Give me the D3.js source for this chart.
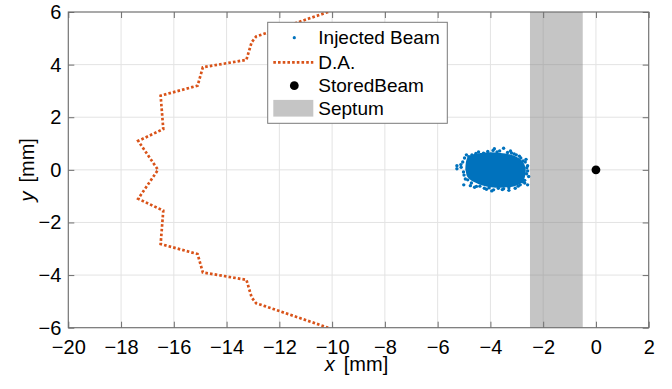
<!DOCTYPE html>
<html>
<head>
<meta charset="utf-8">
<script src="https://cdn.jsdelivr.net/npm/d3@7"></script>
<style>
  body { margin: 0; background: #fff; }
  svg { display: block; }
  text { font-family: "Liberation Sans", Arial, Helvetica, sans-serif; fill: #000; }
</style>
</head>
<body>
<script>
// Dynamic aperture boundary (mm)
const daX = [-10.15, -12.55, -12.88, -13.05, -13.25, -14.9, -15.1, -16.5, -16.4, -17.35, -16.6,
             -17.35, -16.4, -16.5, -15.1, -14.9, -13.25, -13.05, -12.88, -12.55, -10.15];
const daY = [6, 5.18, 5.07, 4.85, 4.18, 3.9, 3.2, 2.82, 1.55, 1.1, 0,
             -1.1, -1.55, -2.82, -3.2, -3.9, -4.18, -4.85, -5.07, -5.18, -6];

// Injected beam: saturated core outline plus individual particles around it (mm)
const coreX = [-4.95, -4.9, -4.74, -4.38, -4.0, -3.62, -3.24, -2.93, -2.74, -2.66, -2.7, -2.82,
               -3.12, -3.5, -3.88, -4.26, -4.64, -4.87, -4.93];
const coreY = [0.06, 0.4, 0.56, 0.64, 0.67, 0.64, 0.58, 0.45, 0.26, 0, -0.3, -0.5,
               -0.63, -0.67, -0.67, -0.6, -0.45, -0.27, -0.06];
const beamX = [-5.27, -5.27, -5.11, -4.91, -3.85, -3.65, -3.5, -3.24, -3.02, -2.76, -2.59, -2.59,
               -2.55, -2.59, -2.87, -3.06, -3.5, -3.88, -4.23, -4.53, -4.76, -5.01, -4.86, -4.7,
               -4.26, -5.05, -5.0, -4.98, -4.55, -4.1, -3.75, -3.35, -3.1, -2.85, -2.68, -2.62,
               -2.63, -2.7, -2.95, -3.3, -3.7, -4.05, -4.4, -4.72, -4.95, -5.02, -5.12, -4.6,
               -3.95, -3.3, -2.7, -2.65, -3.9, -4.45, -3.2, -2.78, -4.15, -4.82, -3.55, -2.9];
const beamY = [0.16, 0.04, 0.1, 0.57, 0.8, 0.72, 0.82, 0.72, 0.57, 0.34, 0.16, -0.04,
               -0.25, -0.57, -0.57, -0.7, -0.72, -0.76, -0.7, -0.63, -0.6, -0.57, -0.38, 0.57,
               0.63, 0.3, -0.2, 0.45, 0.62, 0.7, 0.68, 0.66, 0.6, 0.45, 0.3, 0.08,
               -0.15, -0.4, -0.62, -0.68, -0.7, -0.68, -0.62, -0.5, -0.35, -0.08, 0.2, -0.66,
               -0.8, -0.78, -0.5, 0.4, 0.74, 0.68, 0.64, -0.45, -0.74, 0.5, -0.75, 0.52];

// Stored beam centre and septum extent (mm)
const storedBeam = [0, 0];
const septum = [-2.5, -0.5];

const xTicks = d3.range(-20, 3, 2);
const yTicks = d3.range(-6, 7, 2);
const legendLabels = ["Injected Beam", "D.A.", "StoredBeam", "Septum"];

const W = 672, H = 389;
const margin = {top: 12, right: 23.3, bottom: 61.3, left: 68.3};
const width = W - margin.left - margin.right;
const height = H - margin.top - margin.bottom;

const blue = "#0072BD", orange = "#D95319";

const svg = d3.select("body").append("svg")
  .attr("width", W).attr("height", H);
const g = svg.append("g")
  .attr("transform", `translate(${margin.left},${margin.top})`);

const x = d3.scaleLinear().domain([-20, 2]).range([0, width]);
const y = d3.scaleLinear().domain([-6, 6]).range([height, 0]);

// grid
g.append("g").selectAll("line").data(xTicks).join("line")
  .attr("x1", d => x(d)).attr("x2", d => x(d))
  .attr("y1", 0).attr("y2", height)
  .attr("stroke", "#e3e3e3").attr("stroke-width", 1);
g.append("g").selectAll("line").data(yTicks).join("line")
  .attr("y1", d => y(d)).attr("y2", d => y(d))
  .attr("x1", 0).attr("x2", width)
  .attr("stroke", "#e3e3e3").attr("stroke-width", 1);

svg.append("defs").append("clipPath").attr("id", "plot")
  .append("rect").attr("width", width).attr("height", height);
const plot = g.append("g").attr("clip-path", "url(#plot)");

// septum
plot.append("rect")
  .attr("x", x(septum[0])).attr("width", x(septum[1]) - x(septum[0]))
  .attr("y", 0).attr("height", height)
  .attr("fill", "#808080").attr("fill-opacity", 0.46);

// D.A.
const line = d3.line().x(d => x(d[0])).y(d => y(d[1]));
plot.append("path")
  .datum(daX.map((v, i) => [v, daY[i]]))
  .attr("d", line)
  .attr("fill", "none")
  .attr("stroke", orange).attr("stroke-width", 2.7)
  .attr("stroke-dasharray", "2.6 2.1");

// injected beam
plot.append("path")
  .datum(coreX.map((v, i) => [v, coreY[i]]))
  .attr("d", d3.line().x(d => x(d[0])).y(d => y(d[1])).curve(d3.curveCardinalClosed))
  .attr("fill", blue);
plot.append("g").selectAll("circle")
  .data(beamX.map((v, i) => [v, beamY[i]]))
  .join("circle")
  .attr("cx", d => x(d[0])).attr("cy", d => y(d[1]))
  .attr("r", 1.7).attr("fill", blue);

// stored beam
plot.append("circle")
  .attr("cx", x(storedBeam[0])).attr("cy", y(storedBeam[1]))
  .attr("r", 4.4).attr("fill", "#000");

// axes
const fmt = d => d < 0 ? "\u2212" + Math.abs(d) : String(d);
const styleAxis = sel => {
  sel.select(".domain").remove();
  sel.selectAll(".tick line").attr("stroke", "#6e6e6e").attr("stroke-width", 1);
  sel.selectAll(".tick text").attr("font-size", 20).attr("fill", "#000")
    .style("font-family", '"Liberation Sans", Arial, sans-serif');
};
g.append("g").attr("transform", `translate(0,${height})`)
  .call(d3.axisBottom(x).tickValues(xTicks).tickFormat(fmt).tickSize(-6).tickPadding(12))
  .call(styleAxis);
g.append("g")
  .call(d3.axisLeft(y).tickValues(yTicks).tickFormat(fmt).tickSize(-6).tickPadding(7))
  .call(styleAxis);
g.append("g")
  .call(d3.axisTop(x).tickValues(xTicks).tickFormat("").tickSize(-6))
  .call(styleAxis);
g.append("g").attr("transform", `translate(${width},0)`)
  .call(d3.axisRight(y).tickValues(yTicks).tickFormat("").tickSize(-6))
  .call(styleAxis);

g.append("rect")
  .attr("width", width).attr("height", height)
  .attr("fill", "none").attr("stroke", "#6e6e6e").attr("stroke-width", 1.1);

// axis labels
const xl = svg.append("text")
  .attr("x", margin.left + width / 2 - 2).attr("y", 371)
  .attr("text-anchor", "middle").attr("font-size", 20);
xl.append("tspan").attr("font-style", "italic").text("x");
xl.append("tspan").attr("dx", 9).text("[mm]");

const yl = svg.append("text")
  .attr("transform", `translate(33.5,${margin.top + height / 2}) rotate(-90)`)
  .attr("text-anchor", "middle").attr("font-size", 20);
yl.append("tspan").attr("font-style", "italic").text("y");
yl.append("tspan").attr("dx", 9).text("[mm]");

// legend
const lg = svg.append("g").attr("transform", "translate(267.7,22.3)");
lg.append("rect").attr("width", 179.6).attr("height", 101)
  .attr("fill", "#fff").attr("stroke", "#7a7a7a").attr("stroke-width", 1);
const rowY = [15.4, 40, 63.4, 86];
const rows = lg.selectAll("g.row").data(legendLabels).join("g")
  .attr("class", "row")
  .attr("transform", (d, i) => `translate(0,${rowY[i]})`);
rows.append("text")
  .attr("x", 50.6).attr("dy", "0.35em")
  .attr("font-size", 19).text(d => d);
rows.filter((d, i) => i === 0).append("circle")
  .attr("cx", 26.6).attr("r", 1.6).attr("fill", blue);
rows.filter((d, i) => i === 1).append("line")
  .attr("x1", 5.6).attr("x2", 45.6)
  .attr("stroke", orange).attr("stroke-width", 2.7).attr("stroke-dasharray", "2.6 2.1");
rows.filter((d, i) => i === 2).append("circle")
  .attr("cx", 26.6).attr("r", 4.4).attr("fill", "#000");
rows.filter((d, i) => i === 3).append("rect")
  .attr("x", 5.6).attr("y", -8.4).attr("width", 40).attr("height", 16.7)
  .attr("fill", "#808080").attr("fill-opacity", 0.46);
</script>
</body>
</html>
